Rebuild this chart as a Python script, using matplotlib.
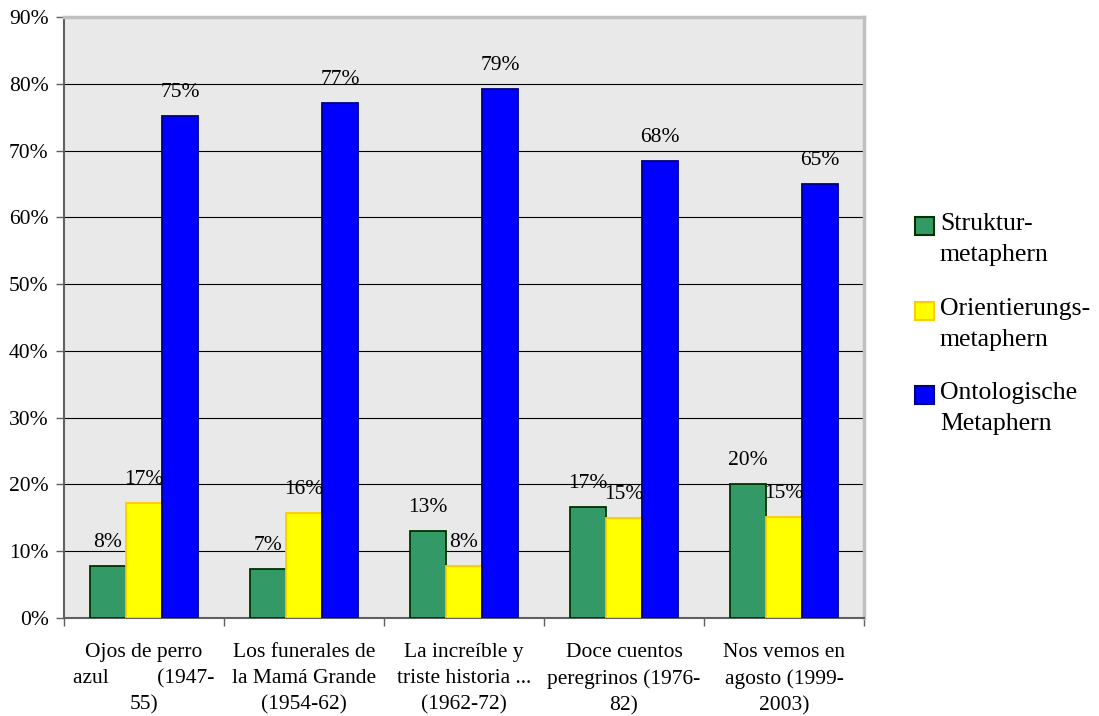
import numpy as np
import matplotlib.pyplot as plt
from matplotlib.patches import Rectangle
from matplotlib.ticker import PercentFormatter

plt.rcParams['font.family'] = ['Liberation Serif', 'DejaVu Serif']

# data
categories = ['Ojos de perro\nazul         (1947-\n55)',
              'Los funerales de\nla Mamá Grande\n(1954-62)',
              'La increíble y\ntriste historia ...\n(1962-72)',
              'Doce cuentos\nperegrinos (1976-\n82)',
              'Nos vemos en\nagosto (1999-\n2003)']
series_names = ['Struktur-\nmetaphern', 'Orientierungs-\nmetaphern', 'Ontologische\nMetaphern']
struktur = [0.078, 0.074, 0.130, 0.166, 0.201]
orient = [0.172, 0.157, 0.078, 0.150, 0.151]
onto = [0.752, 0.771, 0.792, 0.684, 0.650]

faces = ['#339966', '#FFFF00', '#0000FF']
edges = ['#003300', '#FFCC00', '#000080']

W, H = 1099, 716
fig = plt.figure(figsize=(W / 100, H / 100), dpi=100)
ax = fig.add_axes([64 / W, (H - 618) / H, 800 / W, 601 / H])
ax.set_facecolor('#e9e9e9')

x = np.arange(len(categories))
bw = 0.225
for i, vals in enumerate([struktur, orient, onto]):
    bars = ax.bar(x + (i - 1) * bw, vals, bw, color=faces[i], edgecolor=edges[i],
                  linewidth=1.3, zorder=3)
    labs = ['%d%%' % round(v * 100) for v in vals]
    ax.bar_label(bars, labels=labs, padding=10, fontsize=15.5, zorder=5)

ax.set_xlim(-0.5, len(categories) - 0.5)
ax.set_ylim(0, 0.9)
ax.set_yticks(np.arange(0, 0.91, 0.1))
ax.yaxis.set_major_formatter(PercentFormatter(1.0, decimals=0))
ax.yaxis.grid(True, color='black', linewidth=0.8)
ax.set_axisbelow(True)

ax.set_xticks(np.arange(-0.5, len(categories), 1.0))
ax.set_xticklabels([])
ax.set_xticks(x, categories, minor=True)
ax.tick_params(axis='x', which='minor', length=0, pad=18, labelsize=15.5)
ax.tick_params(axis='x', which='major', length=6, width=1, color='#606060')
ax.tick_params(axis='y', length=6, width=1, color='#606060', pad=5, labelsize=15.5)
for lab in ax.get_xticklabels(minor=True):
    lab.set_linespacing(1.5)

for s in ['left', 'bottom']:
    ax.spines[s].set_color('#606060')
    ax.spines[s].set_linewidth(1.5)
for s in ['top', 'right']:
    ax.spines[s].set_color('#c0c0c0')
    ax.spines[s].set_linewidth(2.5)

# legend
leg_top = [217, 302, 386]
for i, name in enumerate(series_names):
    y0 = leg_top[i]
    fig.add_artist(Rectangle((915 / W, 1 - (y0 + 18) / H), 19 / W, 18 / H,
                             transform=fig.transFigure, facecolor=faces[i],
                             edgecolor=edges[i], linewidth=1.5))
    fig.text(940 / W, 1 - (y0 - 4) / H, name, fontsize=18.5, va='top', ha='left',
             linespacing=1.55)

fig.savefig('out.png', dpi=100)
